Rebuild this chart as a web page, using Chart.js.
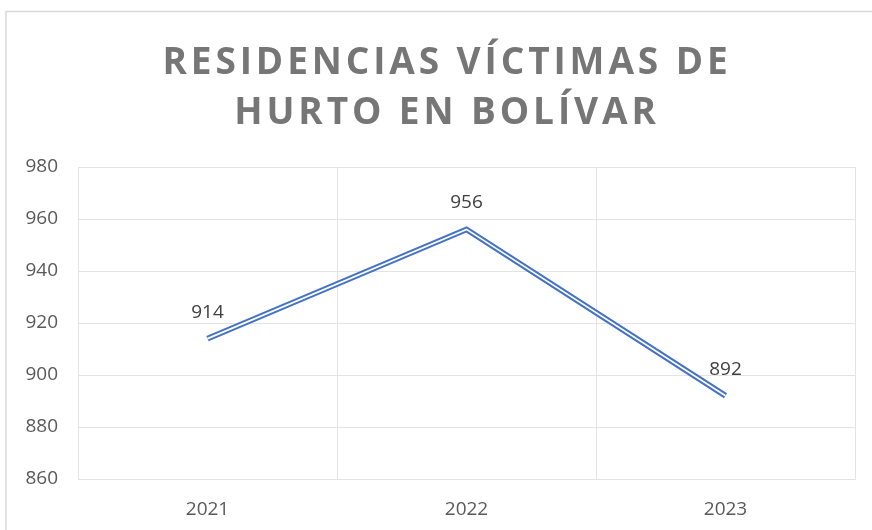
<!DOCTYPE html>
<html>
<head>
<meta charset="utf-8">
<script src="https://cdn.jsdelivr.net/npm/chart.js@4/dist/chart.umd.min.js"></script>
<style>
  html, body { margin: 0; padding: 0; background: #fff; }
  #wrap { width: 872px; height: 530px; position: relative; }
</style>
</head>
<body>
<div id="wrap"><canvas id="grafico" width="872" height="530"></canvas></div>
<script>
const anios = ['2021', '2022', '2023']
const valores = [914, 956, 892]
const tituloLineas = ['RESIDENCIAS VÍCTIMAS DE', 'HURTO EN BOLÍVAR']
const yMin = 860
const yMax = 980
const yPaso = 20

const divGrafico = document.querySelector('#grafico')

// borde exterior y titulo con espaciado de letras
const marcoYTitulo = {
    id: 'marcoYTitulo',
    beforeDraw(chart) {
        const ctx = chart.ctx
        ctx.save()
        ctx.fillStyle = '#fff'
        ctx.fillRect(0, 0, chart.width, chart.height)
        ctx.strokeStyle = '#d9d9d9'
        ctx.lineWidth = 1.5
        ctx.strokeRect(6, 11.5, 1000, 1000)
        ctx.restore()
    },
    afterDraw(chart) {
        const ctx = chart.ctx
        ctx.save()
        ctx.letterSpacing = '3.9px'
        ctx.font = 'bold 37px "Open Sans"'
        ctx.fillStyle = '#767676'
        ctx.textAlign = 'center'
        ctx.textBaseline = 'alphabetic'
        ctx.fillText(tituloLineas[0], 447, 74)
        ctx.fillText(tituloLineas[1], 447, 124)
        ctx.restore()
    }
}

// etiquetas de valor encima de cada punto
const etiquetas = {
    id: 'etiquetas',
    afterDatasetsDraw(chart) {
        const ctx = chart.ctx
        const meta = chart.getDatasetMeta(1)
        ctx.save()
        ctx.font = '19px "Open Sans"'
        ctx.fillStyle = '#404040'
        ctx.textAlign = 'center'
        ctx.textBaseline = 'alphabetic'
        meta.data.forEach((p, i) => {
            ctx.fillText(valores[i], p.x, p.y - 21)
        })
        ctx.restore()
    }
}

const chart = new Chart(divGrafico, {
    type: 'line',
    data: {
        labels: anios,
        datasets: [
            {
                // linea blanca central (efecto de linea doble)
                data: valores,
                borderColor: '#ffffff',
                borderWidth: 1.7,
                pointRadius: 0,
                tension: 0
            },
            {
                label: 'Residencias',
                data: valores,
                borderColor: '#4472c4',
                borderWidth: 5.8,
                pointRadius: 0,
                tension: 0
            }
        ]
    },
    options: {
        responsive: false,
        animation: false,
        layout: { padding: { top: 167, right: 17, left: 0, bottom: 0 } },
        plugins: {
            legend: { display: false },
            tooltip: { enabled: false },
            title: { display: false }
        },
        scales: {
            x: {
                offset: true,
                grid: { offset: true, color: '#e3e3e3', drawTicks: false },
                border: { color: '#e3e3e3' },
                ticks: { color: '#595959', font: { family: 'Open Sans', size: 19 }, padding: 19 },
                afterFit: (s) => { s.height = 51 }
            },
            y: {
                min: yMin,
                max: yMax,
                grid: { color: '#e3e3e3', drawTicks: false },
                border: { color: '#e3e3e3' },
                ticks: { stepSize: yPaso, color: '#595959', font: { family: 'Open Sans', size: 19 }, padding: 20 },
                afterFit: (s) => { s.width = 78 }
            }
        }
    },
    plugins: [marcoYTitulo, etiquetas]
})
</script>
</body>
</html>
